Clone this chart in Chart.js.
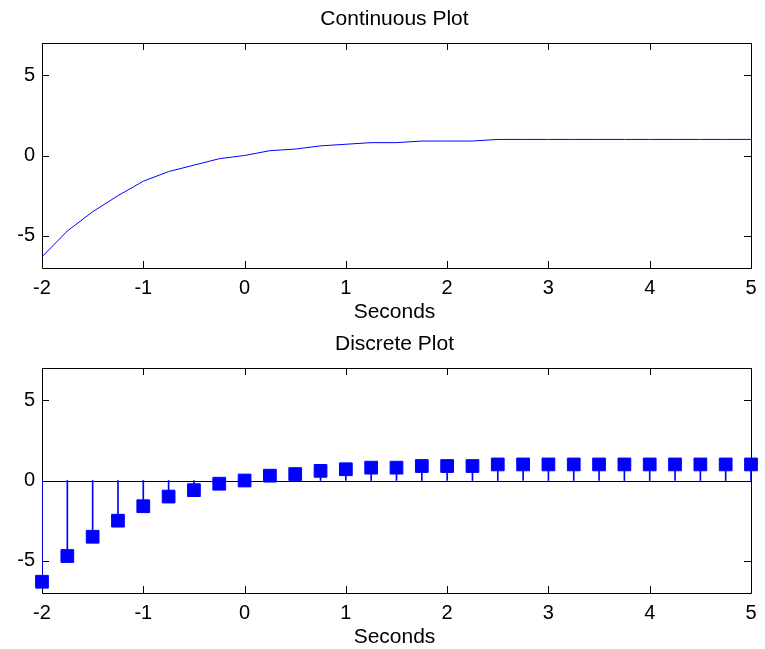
<!DOCTYPE html>
<html>
<head>
<meta charset="utf-8">
<title>Continuous and Discrete Plot</title>
<script src="https://cdn.jsdelivr.net/npm/chart.js@4.4.1/dist/chart.umd.min.js"></script>
<style>
  html, body { margin: 0; padding: 0; background: #fff; }
  .panel { position: absolute; left: 0; width: 765px; height: 325px; }
  #top { top: 0; }
  #bottom { top: 325px; }
</style>
</head>
<body>
<div class="panel" id="top"><canvas id="continuous"></canvas></div>
<div class="panel" id="bottom"><canvas id="discrete"></canvas></div>
<script>
"use strict";

// sample times and the step response at each one
const SECONDS = [
  -2, -1.75, -1.5, -1.25, -1, -0.75, -0.5, -0.25, 0, 0.25, 0.5, 0.75, 1, 1.25,
  1.5, 1.75, 2, 2.25, 2.5, 2.75, 3, 3.25, 3.5, 3.75, 4, 4.25, 4.5, 4.75, 5,
];
const RESPONSE = [
  -6.3, -4.7, -3.5, -2.5, -1.6, -1.0, -0.6, -0.2, 0, 0.3, 0.4, 0.6, 0.7, 0.8,
  0.8, 0.9, 0.9, 0.9, 1.0, 1.0, 1.0, 1.0, 1.0, 1.0, 1.0, 1.0, 1.0, 1.0, 1.0,
];

const X_TICKS = [-2, -1, 0, 1, 2, 3, 4, 5];
const Y_TICKS = [-5, 0, 5];

const BLUE = "#0000ff";
const INK = "#000000";
const FONT = '"Liberation Sans", Arial, sans-serif';

Chart.defaults.font.family = FONT;
Chart.defaults.font.size = 20;
Chart.defaults.color = INK;

const points = SECONDS.map((t, i) => ({ x: t, y: RESPONSE[i] }));

// frame, inward ticks, title and x label drawn like a classic axes box
const boxPlugin = {
  id: "box",
  beforeDatasetsDraw(chart, args, opts) {
    const { ctx, chartArea: a, scales } = chart;
    const { x, y } = scales;
    const tick = 7;
    ctx.save();
    ctx.strokeStyle = INK;
    ctx.lineWidth = 1;
    ctx.beginPath();
    ctx.rect(Math.round(a.left) + 0.5, Math.round(a.top) + 0.5,
      Math.round(a.right - a.left), Math.round(a.bottom - a.top));
    X_TICKS.forEach((v) => {
      const px = Math.round(x.getPixelForValue(v)) + 0.5;
      ctx.moveTo(px, a.bottom);
      ctx.lineTo(px, a.bottom - tick);
      ctx.moveTo(px, a.top);
      ctx.lineTo(px, a.top + tick);
    });
    Y_TICKS.forEach((v) => {
      const py = Math.round(y.getPixelForValue(v)) + 0.5;
      ctx.moveTo(a.left, py);
      ctx.lineTo(a.left + tick, py);
      ctx.moveTo(a.right, py);
      ctx.lineTo(a.right - tick, py);
    });
    if (opts.baseline) {
      const y0 = Math.round(y.getPixelForValue(0)) + 0.5;
      ctx.moveTo(a.left, y0);
      ctx.lineTo(a.right, y0);
    }
    ctx.stroke();
    ctx.restore();
  },
  afterDraw(chart, args, opts) {
    const { ctx, chartArea: a } = chart;
    const cx = (a.left + a.right) / 2;
    ctx.save();
    ctx.fillStyle = INK;
    ctx.font = "21px " + FONT;
    ctx.textAlign = "center";
    ctx.textBaseline = "alphabetic";
    ctx.fillText(opts.title, cx - 2, a.top - 18);
    ctx.fillText(opts.xlabel, cx - 2, a.bottom + 50);
    ctx.restore();
  },
};

function axes() {
  return {
    x: {
      type: "linear",
      min: -2,
      max: 5,
      offset: false,
      grid: { display: false, drawTicks: false, offset: false },
      border: { display: false },
      afterBuildTicks: (s) => {
        s.ticks = X_TICKS.map((v) => ({ value: v }));
      },
      afterFit: (s) => {
        s.height = 57;
      },
      ticks: { padding: 8, maxRotation: 0, autoSkip: false },
    },
    y: {
      type: "linear",
      min: -7,
      max: 7,
      grid: { display: false, drawTicks: false },
      border: { display: false },
      afterBuildTicks: (s) => {
        s.ticks = Y_TICKS.map((v) => ({ value: v }));
      },
      afterFit: (s) => {
        s.width = 42;
      },
      ticks: { padding: 7 },
    },
  };
}

function baseOptions(title, baseline) {
  return {
    responsive: true,
    maintainAspectRatio: false,
    animation: false,
    layout: { padding: { top: 43, right: 14, left: 0, bottom: 0 } },
    scales: axes(),
    plugins: {
      legend: { display: false },
      tooltip: { enabled: false },
      box: { title: title, xlabel: "Seconds", baseline: baseline },
    },
  };
}

new Chart(document.getElementById("continuous"), {
  type: "line",
  data: {
    datasets: [
      {
        data: points,
        borderColor: BLUE,
        borderWidth: 1,
        pointRadius: 0,
        tension: 0,
      },
    ],
  },
  options: baseOptions("Continuous Plot", false),
  plugins: [boxPlugin],
});

new Chart(document.getElementById("discrete"), {
  type: "bar",
  data: {
    datasets: [
      {
        // square markers on top of the stems
        type: "line",
        data: points,
        showLine: false,
        pointStyle: "rect",
        pointRadius: 9,
        borderWidth: 1,
        backgroundColor: BLUE,
        borderColor: BLUE,
        clip: false,
        order: 1,
      },
      {
        // stems from zero up/down to each sample
        type: "bar",
        data: points,
        barThickness: 1,
        backgroundColor: BLUE,
        borderWidth: 0,
        order: 2,
      },
    ],
  },
  options: baseOptions("Discrete Plot", true),
  plugins: [boxPlugin],
});
</script>
</body>
</html>
